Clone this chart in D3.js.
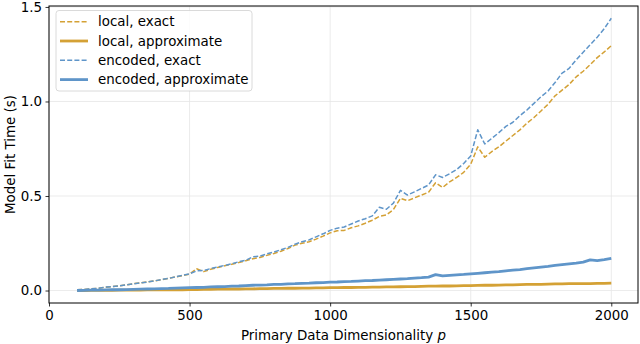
<!DOCTYPE html>
<html>
<head>
<meta charset="utf-8">
<script src="https://cdn.jsdelivr.net/npm/d3@7"></script>
<style>
  body { margin: 0; background: #fff; }
  svg { display: block; font-family: "DejaVu Sans", sans-serif; }
</style>
</head>
<body>
<div id="chart"></div>
<script>
// dimensionality p, sampled every 25
var dims = d3.range(100, 2001, 25);

var localExact = [0.004,0.006,0.009,0.012,0.017,0.021,0.025,0.030,0.036,0.040,0.046,0.051,0.057,0.064,0.072,0.079,
  0.087,0.115,0.100,0.112,0.122,0.131,0.139,0.148,0.158,0.168,0.175,0.186,0.196,0.208,0.222,0.240,
  0.250,0.258,0.272,0.288,0.305,0.316,0.318,0.332,0.342,0.356,0.372,0.392,0.400,0.428,0.488,0.475,
  0.490,0.505,0.520,0.570,0.545,0.575,0.598,0.625,0.668,0.760,0.705,0.735,0.760,0.790,0.820,0.850,
  0.885,0.915,0.950,0.985,1.030,1.060,1.090,1.130,1.160,1.195,1.232,1.262,1.295];

var localApprox = [0.000,0.000,0.001,0.001,0.001,0.001,0.002,0.002,0.002,0.002,0.003,0.003,0.003,0.004,0.004,0.004,
  0.005,0.005,0.006,0.006,0.007,0.007,0.008,0.008,0.009,0.009,0.010,0.010,0.011,0.011,0.012,0.012,
  0.013,0.013,0.014,0.014,0.015,0.015,0.016,0.016,0.017,0.017,0.018,0.018,0.019,0.019,0.020,0.021,
  0.021,0.022,0.023,0.023,0.024,0.024,0.025,0.026,0.026,0.027,0.028,0.028,0.029,0.030,0.030,0.031,
  0.032,0.033,0.033,0.034,0.035,0.035,0.036,0.036,0.037,0.037,0.038,0.038,0.039];

var encodedExact = [0.004,0.006,0.009,0.012,0.018,0.021,0.025,0.030,0.035,0.040,0.045,0.051,0.058,0.064,0.072,0.080,
  0.088,0.104,0.106,0.116,0.124,0.133,0.141,0.152,0.160,0.178,0.182,0.194,0.203,0.216,0.228,0.245,
  0.258,0.268,0.284,0.300,0.318,0.330,0.336,0.352,0.368,0.380,0.395,0.440,0.430,0.462,0.530,0.505,
  0.522,0.540,0.558,0.612,0.598,0.618,0.640,0.672,0.712,0.850,0.775,0.805,0.835,0.868,0.890,0.925,
  0.955,0.990,1.025,1.055,1.100,1.150,1.175,1.220,1.260,1.300,1.340,1.385,1.440];

var encodedApprox = [0.000,0.001,0.002,0.002,0.003,0.004,0.004,0.005,0.006,0.007,0.008,0.009,0.010,0.011,0.013,0.014,
  0.015,0.016,0.017,0.019,0.020,0.021,0.023,0.024,0.026,0.028,0.029,0.030,0.032,0.033,0.035,0.036,
  0.038,0.039,0.041,0.042,0.044,0.045,0.047,0.048,0.050,0.052,0.053,0.055,0.057,0.059,0.061,0.063,
  0.066,0.068,0.071,0.084,0.077,0.080,0.083,0.085,0.088,0.091,0.094,0.097,0.100,0.104,0.108,0.111,
  0.116,0.120,0.124,0.128,0.133,0.137,0.141,0.145,0.150,0.162,0.158,0.163,0.170];

var xTicks = [0, 500, 1000, 1500, 2000];
var yTicks = [0.0, 0.5, 1.0, 1.5];

var gold = "#d4a135", blue = "#5f95c9";

var series = [
  {name: "local, exact", values: localExact, color: gold, dashed: true},
  {name: "local, approximate", values: localApprox, color: gold, dashed: false},
  {name: "encoded, exact", values: encodedExact, color: blue, dashed: true},
  {name: "encoded, approximate", values: encodedApprox, color: blue, dashed: false}
];

var W = 640, H = 344,
  margin = {top: 6, right: 2, bottom: 41, left: 49},
  width = W - margin.left - margin.right,
  height = H - margin.top - margin.bottom,
  fs = "13.4px";

var svg = d3.select("#chart").append("svg")
  .attr("width", W).attr("height", H);

var g = svg.append("g")
  .attr("transform", "translate(" + margin.left + "," + margin.top + ")");

var x = d3.scaleLinear().domain([0, 2095]).range([0, width]);
var y = d3.scaleLinear().domain([-0.066, 1.505]).range([height, 0]);

// grid
g.append("g").selectAll("line").data(xTicks).enter().append("line")
  .attr("x1", d => x(d)).attr("x2", d => x(d))
  .attr("y1", 0).attr("y2", height)
  .attr("stroke", "#e6e6e6").attr("stroke-width", 0.8);
g.append("g").selectAll("line").data(yTicks).enter().append("line")
  .attr("y1", d => y(d)).attr("y2", d => y(d))
  .attr("x1", 0).attr("x2", width)
  .attr("stroke", "#e6e6e6").attr("stroke-width", 0.8);

// lines
var line = d3.line()
  .x((d, i) => x(dims[i]))
  .y(d => y(d));

series.forEach(function(s) {
  g.append("path")
    .datum(s.values)
    .attr("d", line)
    .attr("fill", "none")
    .attr("stroke", s.color)
    .attr("stroke-width", s.dashed ? 1.5 : 2.8)
    .attr("stroke-dasharray", s.dashed ? "5,2.2" : null)
    .attr("stroke-linejoin", "round");
});

// axes
var xAxis = g.append("g")
  .attr("transform", "translate(0," + height + ")")
  .call(d3.axisBottom(x).tickValues(xTicks).tickSize(3.5).tickPadding(3.5).tickFormat(d3.format("d")));
var yAxis = g.append("g")
  .call(d3.axisLeft(y).tickValues(yTicks).tickSize(3.5).tickPadding(3.5).tickFormat(d3.format(".1f")));

[xAxis, yAxis].forEach(function(a) {
  a.select(".domain").remove();
  a.selectAll("line").attr("stroke", "#000").attr("stroke-width", 0.8);
  a.selectAll("text").attr("font-size", fs).attr("fill", "#000")
    .attr("font-family", "DejaVu Sans, sans-serif");
});

// frame
g.append("rect")
  .attr("width", width).attr("height", height)
  .attr("fill", "none").attr("stroke", "#000").attr("stroke-width", 1);

// axis labels
var xl = svg.append("text")
  .attr("x", margin.left + width / 2).attr("y", 340)
  .attr("text-anchor", "middle")
  .attr("font-size", fs);
xl.append("tspan").text("Primary Data Dimensionality ");
xl.append("tspan").attr("font-style", "italic").text("p");

svg.append("text")
  .attr("transform", "translate(15," + (margin.top + height / 2) + ") rotate(-90)")
  .attr("text-anchor", "middle")
  .attr("font-size", fs)
  .text("Model Fit Time (s)");

// legend
var leg = svg.append("g");
leg.append("rect")
  .attr("x", 56).attr("y", 10.5).attr("width", 196).attr("height", 80.5)
  .attr("rx", 3).attr("fill", "#fff").attr("fill-opacity", 0.85)
  .attr("stroke", "#d0d0d0").attr("stroke-width", 0.8);

var items = leg.selectAll("g.item").data(series).enter().append("g")
  .attr("transform", (d, i) => "translate(0," + (21.7 + i * 19.3) + ")");
items.append("line")
  .attr("x1", 60).attr("x2", 88)
  .attr("stroke", d => d.color)
  .attr("stroke-width", d => d.dashed ? 1.5 : 2.8)
  .attr("stroke-dasharray", d => d.dashed ? "5,2.2" : null);
items.append("text")
  .attr("x", 98).attr("dy", "0.35em")
  .attr("font-size", fs)
  .text(d => d.name);
</script>
</body>
</html>
